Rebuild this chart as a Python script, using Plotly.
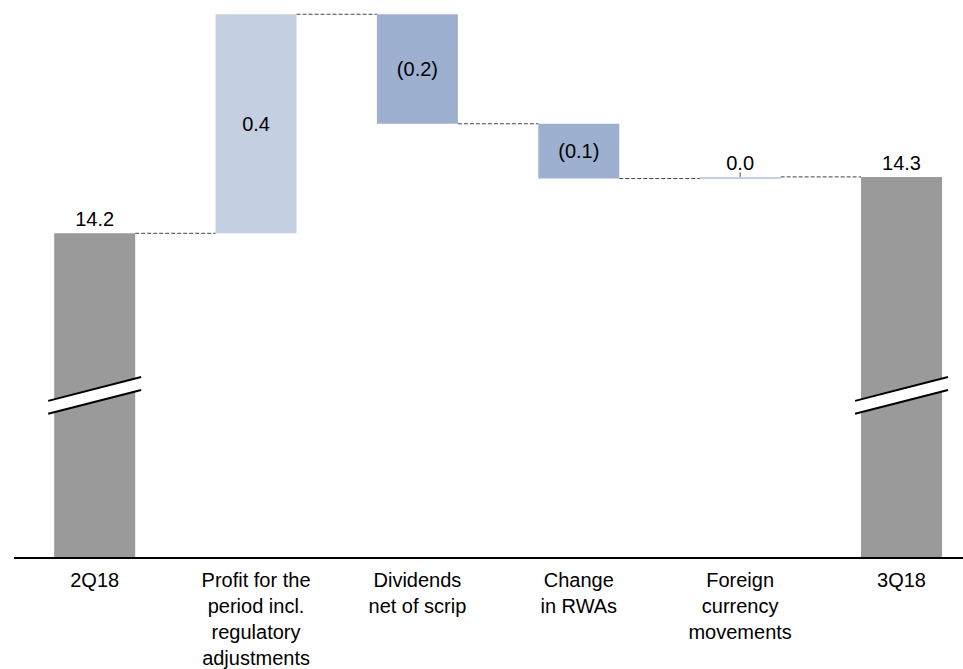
import plotly.graph_objects as go

# ---- data ----
categories = ["2Q18", "Profit for the<br>period incl.<br>regulatory<br>adjustments",
              "Dividends<br>net of scrip", "Change<br>in RWAs",
              "Foreign<br>currency<br>movements", "3Q18"]
start_value = 14.2
deltas = [0.4, -0.2, -0.1, 0.003]

# ---- derived ----
end_value = start_value + sum(deltas)
kinds = ["total"] + ["delta"] * len(deltas) + ["total"]
values = [start_value] + deltas + [end_value]

bases, heights, levels = [], [], []
running = start_value
for k, v in zip(kinds, values):
    if k == "total":
        bases.append(0)
        heights.append(v)
        levels.append(v)
    else:
        bases.append(running)
        heights.append(v)
        running += v
        levels.append(running)

def fmt(v):
    return f"({abs(v):.1f})" if round(v, 1) < 0 else f"{abs(v):.1f}"

labels = [fmt(v) for v in values]

GREY = "#9a9a9a"
POS = "#c4cfe2"
NEG = "#9eb0cf"
colors = []
for k, v in zip(kinds, values):
    colors.append(GREY if k == "total" else (POS if v >= 0 else NEG))

textpos = []
for k, v in zip(kinds, values):
    if k == "total" or abs(v) < 0.05:
        textpos.append("outside")
    else:
        textpos.append("inside")

FONT = "Arial, Liberation Sans, sans-serif"
BAR_W = 0.502
xs = list(range(len(categories)))

fig = go.Figure()
fig.add_trace(go.Bar(
    x=xs, y=heights, base=bases, width=BAR_W,
    marker=dict(color=colors, line=dict(width=0)),
    text=labels, textposition=textpos,
    insidetextanchor="middle",
    textfont=dict(family=FONT, size=20, color="black"),
    insidetextfont=dict(family=FONT, size=20, color="black"),
    outsidetextfont=dict(family=FONT, size=20, color="black"),
    constraintext="none", cliponaxis=False,
    hoverinfo="skip", showlegend=False,
))

shapes = []
# connectors
for i in range(len(xs) - 1):
    lvl = levels[i]
    shapes.append(dict(type="line", xref="x", yref="y",
                       x0=xs[i] + BAR_W / 2, x1=xs[i + 1] - BAR_W / 2,
                       y0=lvl, y1=lvl,
                       line=dict(color="#444444", width=1, dash="4px,2px")))

# tiny tick above near-zero bar
for i, (k, v) in enumerate(zip(kinds, values)):
    if k == "delta" and abs(v) < 0.05:
        top = max(bases[i], bases[i] + v)
        shapes.append(dict(type="line", xref="x", yref="y",
                           x0=xs[i], x1=xs[i], y0=top, y1=top + 0.008,
                           line=dict(color="#444444", width=1)))

fig.update_layout(shapes=shapes)

# axis break marks on total bars
BREAK_Y = 13.904
BREAK_RISE = 0.0435
BREAK_GAP = 0.0236
BREAK_HALF = 0.288
for i, k in enumerate(kinds):
    if k != "total":
        continue
    c = xs[i]
    ul = BREAK_Y + BREAK_GAP / 2 - BREAK_RISE / 2
    ur = BREAK_Y + BREAK_GAP / 2 + BREAK_RISE / 2
    ll = BREAK_Y - BREAK_GAP / 2 - BREAK_RISE / 2
    lr = BREAK_Y - BREAK_GAP / 2 + BREAK_RISE / 2
    fig.add_trace(go.Scatter(
        x=[c - BREAK_HALF, c + BREAK_HALF, c + BREAK_HALF, c - BREAK_HALF, c - BREAK_HALF],
        y=[ul, ur, lr, ll, ul], mode="lines", fill="toself",
        fillcolor="white", line=dict(width=0), hoverinfo="skip", showlegend=False))
    for y0, y1 in [(ul, ur), (ll, lr)]:
        fig.add_trace(go.Scatter(
            x=[c - BREAK_HALF, c + BREAK_HALF], y=[y0, y1], mode="lines",
            line=dict(color="black", width=2), hoverinfo="skip", showlegend=False))

fig.update_layout(
    width=963, height=669,
    margin=dict(l=14, r=0, t=0, b=108),
    paper_bgcolor="white", plot_bgcolor="white",
    font=dict(family=FONT, size=20, color="black"),
    bargap=0.5,
    xaxis=dict(type="linear", range=[-0.5, 5.381], tickvals=xs, ticktext=categories,
               showgrid=False, zeroline=False, showline=True, linecolor="black",
               linewidth=1.5, ticks="", ticklabelstandoff=4,
               tickfont=dict(family=FONT, size=20, color="black"),
               fixedrange=True),
    yaxis=dict(visible=False, range=[13.609, 14.626], fixedrange=True),
)

fig.write_html("out.html", config={"displayModeBar": False},
               post_script="document.body.style.margin='0';document.body.style.overflow='hidden';")
